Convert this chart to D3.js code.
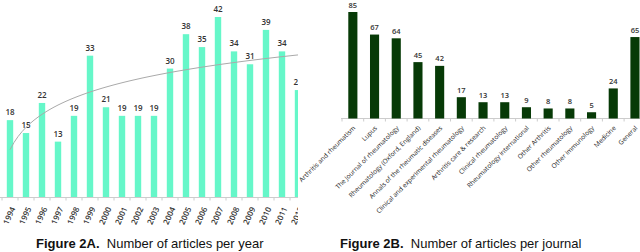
<!DOCTYPE html>
<html>
<head>
<meta charset="utf-8">
<script src="https://cdn.jsdelivr.net/npm/d3@7"></script>
<style>
    body { margin: 0; background: #fff; }
    svg { display: block; }
</style>
</head>
<body>
<svg id="chart" width="640" height="252"></svg>
<script>
const years = ['1994', '1995', '1996', '1997', '1998', '1999', '2000', '2001', '2002', '2003',
    '2004', '2005', '2006', '2007', '2008', '2009', '2010', '2011', '2012'];
const yearCounts = [18, 15, 22, 13, 19, 33, 21, 19, 19, 19, 30, 38, 35, 42, 34, 31, 39, 34, 25];

const journals = ['Arthritis and rheumatism', 'Lupus', 'The Journal of rheumatology',
    'Rheumatology (Oxford, England)', 'Annals of the rheumatic diseases',
    'Clinical and experimental rheumatology', 'Arthritis care & research',
    'Clinical rheumatology', 'Rheumatology international', 'Other Arthritis',
    'Other rheumatology', 'Other immunology', 'Medicine', 'General'];
const journalCounts = [85, 67, 64, 45, 42, 17, 13, 13, 9, 8, 8, 5, 24, 65];

const captions = [
    { bold: 'Figure 2A.', rest: '  Number of articles per year', x: 36 },
    { bold: 'Figure 2B.', rest: '  Number of articles per journal', x: 340 },
];

const svg = d3.select('#chart');
const labelFont = '"Open Sans", sans-serif';

// ---- panel A: per year ----
svg.append('clipPath').attr('id', 'clipA')
    .append('rect').attr('x', -10).attr('y', 0).attr('width', 308).attr('height', 240);

const a = svg.append('g').attr('clip-path', 'url(#clipA)');

const xA = d3.scaleBand().domain(years).range([2, 306]).paddingInner(0.6).paddingOuter(0.3);
const yA = d3.scaleLinear().domain([0, 42]).range([197.5, 17]);

a.selectAll('rect.bar')
    .data(years)
    .join('rect')
    .attr('class', 'bar')
    .attr('x', (d) => xA(d))
    .attr('width', xA.bandwidth())
    .attr('y', (d, i) => yA(yearCounts[i]))
    .attr('height', (d, i) => yA(0) - yA(yearCounts[i]))
    .attr('fill', '#66f7c9');

a.selectAll('text.val')
    .data(years)
    .join('text')
    .attr('class', 'val')
    .attr('x', (d) => xA(d) + xA.bandwidth() / 2)
    .attr('y', (d, i) => yA(yearCounts[i]) - 5)
    .attr('text-anchor', 'middle')
    .attr('fill', '#333')
    .style('font-family', labelFont)
    .style('font-size', '8px')
    .style('font-weight', 600)
    .text((d, i) => yearCounts[i]);

// logarithmic trend line fitted to the yearly counts
const lx = yearCounts.map((d, i) => Math.log(i + 1));
const mx = d3.mean(lx);
const my = d3.mean(yearCounts);
const b = d3.sum(lx, (v, i) => (v - mx) * (yearCounts[i] - my)) / d3.sum(lx, (v) => (v - mx) ** 2);
const a0 = my - b * mx;
const trend = d3.range(1, years.length + 0.01, 0.25).map((t) => [
    xA(years[0]) + xA.bandwidth() / 2 + (t - 1) * xA.step(),
    yA(a0 + b * Math.log(t)),
]);
a.append('path')
    .attr('d', d3.line()(trend))
    .attr('fill', 'none')
    .attr('stroke', '#aaa')
    .attr('stroke-width', 1);

a.append('line')
    .attr('x1', 0).attr('x2', 298)
    .attr('y1', yA(0)).attr('y2', yA(0))
    .attr('stroke', '#ccc');
a.selectAll('line.tick')
    .data(d3.range(years.length + 1))
    .join('line')
    .attr('class', 'tick')
    .attr('x1', (i) => xA.range()[0] + i * xA.step())
    .attr('x2', (i) => xA.range()[0] + i * xA.step())
    .attr('y1', yA(0)).attr('y2', yA(0) + 3)
    .attr('stroke', '#ccc');

a.selectAll('text.year')
    .data(years)
    .join('text')
    .attr('class', 'year')
    .attr('transform', (d) => `translate(${xA(d) + xA.bandwidth() / 2 + 5.5},${yA(0) + 11}) rotate(-66)`)
    .attr('text-anchor', 'end')
    .attr('fill', '#333')
    .style('font-family', labelFont)
    .style('font-size', '8px')
    .style('font-weight', 600)
    .text((d) => d);

// ---- panel B: per journal ----
const xB = d3.scaleBand().domain(journals).range([342, 342 + journals.length * 21.7])
    .paddingInner(0.58).paddingOuter(0.29);
const yB = d3.scaleLinear().domain([0, 85]).range([118.5, 12]);

const bPanel = svg.append('g');

bPanel.append('line')
    .attr('x1', 341).attr('x2', 640)
    .attr('y1', yB(0)).attr('y2', yB(0))
    .attr('stroke', '#ccc');
bPanel.selectAll('line.tick')
    .data(d3.range(journals.length + 1))
    .join('line')
    .attr('class', 'tick')
    .attr('x1', (i) => xB.range()[0] + i * xB.step())
    .attr('x2', (i) => xB.range()[0] + i * xB.step())
    .attr('y1', yB(0)).attr('y2', yB(0) + 3)
    .attr('stroke', '#ccc');

bPanel.selectAll('rect.bar')
    .data(journals)
    .join('rect')
    .attr('class', 'bar')
    .attr('x', (d) => xB(d))
    .attr('width', xB.bandwidth())
    .attr('y', (d, i) => yB(journalCounts[i]))
    .attr('height', (d, i) => yB(0) - yB(journalCounts[i]))
    .attr('fill', '#073a07');

bPanel.selectAll('text.val')
    .data(journals)
    .join('text')
    .attr('class', 'val')
    .attr('x', (d) => xB(d) + xB.bandwidth() / 2)
    .attr('y', (d, i) => yB(journalCounts[i]) - 4.5)
    .attr('text-anchor', 'middle')
    .attr('fill', '#333')
    .style('font-family', labelFont)
    .style('font-size', '7.5px')
    .style('font-weight', 600)
    .text((d, i) => journalCounts[i]);

bPanel.selectAll('text.cat')
    .data(journals)
    .join('text')
    .attr('class', 'cat')
    .attr('transform', (d) => `translate(${xB(d) + xB.bandwidth() / 2 + 3},${yB(0) + 10}) rotate(-45)`)
    .attr('text-anchor', 'end')
    .attr('fill', '#222')
    .style('font-family', labelFont)
    .style('font-size', '6.5px')
    .text((d) => d);

// ---- captions ----
captions.forEach((c) => {
    const t = svg.append('text')
        .attr('x', c.x)
        .attr('y', 248)
        .attr('fill', '#111')
        .style('font-family', '"Liberation Sans", Arial, sans-serif')
        .style('font-size', '13px')
        .attr('xml:space', 'preserve')
        .style('white-space', 'pre');
    t.append('tspan').style('font-weight', 'bold').text(c.bold);
    t.append('tspan').text(c.rest);
});
</script>
</body>
</html>
